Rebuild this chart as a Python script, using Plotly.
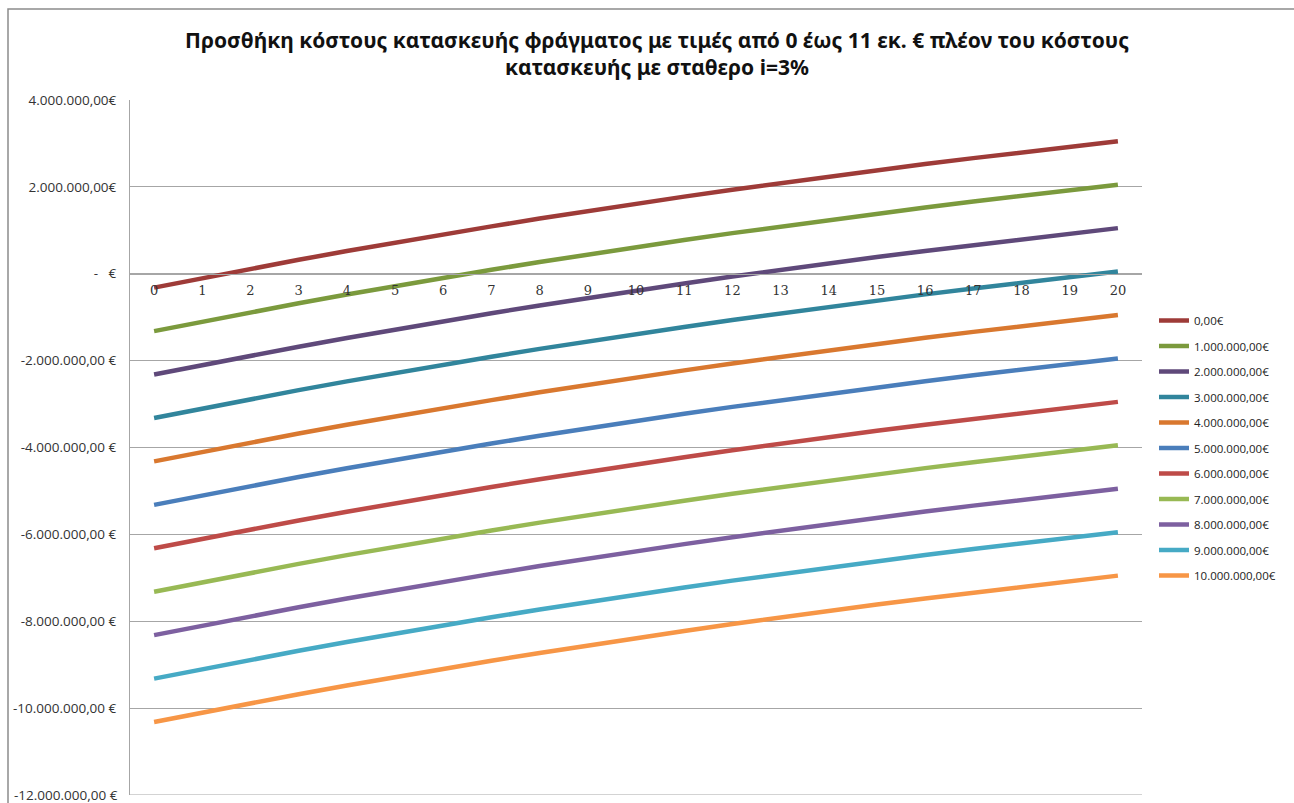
import plotly.graph_objects as go

# Years of operation (category axis)
years = list(range(21))

# Cumulative present value (€) of the project with no extra construction cost, i = 3%
base_npv = [-320000, -100000, 113000, 321000, 522000, 717000, 907000, 1091000,
            1270000, 1444000, 1612000, 1776000, 1935000, 2089000, 2239000,
            2384000, 2525000, 2662000, 2795000, 2924000, 3050000]

# Extra dam construction cost of each scenario (€)
added_cost = [0, 1000000, 2000000, 3000000, 4000000, 5000000,
              6000000, 7000000, 8000000, 9000000, 10000000]

series_names = ["0,00€", "1.000.000,00€", "2.000.000,00€", "3.000.000,00€",
                "4.000.000,00€", "5.000.000,00€", "6.000.000,00€", "7.000.000,00€",
                "8.000.000,00€", "9.000.000,00€", "10.000.000,00€"]

series_colors = ["#9E3B38", "#7B9A3D", "#5F497A", "#31859C", "#D9782F", "#4A7EBB",
                 "#BE4B48", "#98B954", "#7D60A0", "#46AAC5", "#F79646"]

# Value axis ticks
y_tickvals = [4000000, 2000000, 0, -2000000, -4000000, -6000000,
              -8000000, -10000000, -12000000]
y_ticktext = ["4.000.000,00€", "2.000.000,00€", " -   €", "-2.000.000,00 €",
              "-4.000.000,00 €", "-6.000.000,00 €", "-8.000.000,00 €",
              "-10.000.000,00 €", "-12.000.000,00 €"]

title_text = ("Προσθήκη κόστους κατασκευής φράγματος με τιμές από 0 έως 11 εκ. € πλέον του κόστους"
              "<br>κατασκευής με σταθερο i=3%")

fig = go.Figure()
for name, cost, color in zip(series_names, added_cost, series_colors):
    fig.add_trace(go.Scatter(
        x=years,
        y=[v - cost for v in base_npv],
        mode="lines",
        name=name,
        legendgroup=name,
        line=dict(color=color, width=4.5),
    ))

W, H = 1294, 803
ml, mr, mt, mb = 130, 152, 100, 8
pw, ph = W - ml - mr, H - mt - mb


def px_x(p):
    return (p - ml) / pw


def px_y(p):
    return (H - mb - p) / ph


y_min, y_max = min(y_tickvals), max(y_tickvals)
zero_pos = (0 - y_min) / (y_max - y_min)

ytick_font = dict(family="Open Sans, sans-serif", size=13.5, color="#333333")

fig.update_layout(
    width=W, height=H,
    margin=dict(l=ml, r=mr, t=mt, b=mb),
    paper_bgcolor="white",
    plot_bgcolor="white",
    font=dict(family="Open Sans, sans-serif", color="#333333"),
    title=dict(
        text=title_text,
        x=657 / W, xref="container", xanchor="center",
        y=1 - 48 / H, yref="container", yanchor="middle",
        font=dict(family="Noto Sans, sans-serif", size=21, color="#111111", weight="bold"),
    ),
    xaxis=dict(
        range=[-0.5, 20.5],
        tickvals=years,
        ticktext=[str(y) for y in years],
        anchor="free",
        position=zero_pos,
        showline=True, linecolor="#a6a6a6", linewidth=1,
        showgrid=False, zeroline=False,
        ticks="",
        ticklabelstandoff=5,
        tickfont=dict(family="DejaVu Serif, serif", size=13, color="#333333"),
    ),
    yaxis=dict(
        range=[y_min, y_max],
        # the lowest label sits on the figure's bottom edge; it is placed as an annotation below
        tickvals=y_tickvals[:-1],
        ticktext=y_ticktext[:-1],
        showgrid=True, gridcolor="#a6a6a6", gridwidth=1,
        zeroline=True, zerolinecolor="#a6a6a6", zerolinewidth=1,
        showline=True, linecolor="#a6a6a6", linewidth=1,
        ticks="",
        ticklabelstandoff=10,
        tickfont=ytick_font,
    ),
    legend=dict(
        x=px_x(1154), xanchor="left",
        y=px_y(306), yanchor="top",
        font=dict(family="Open Sans, sans-serif", size=11.5, color="#222222"),
        tracegroupgap=6.5,
        itemwidth=30,
        bgcolor="rgba(0,0,0,0)",
    ),
    showlegend=True,
    annotations=[
        dict(xref="paper", yref="y", x=0, y=y_tickvals[-1],
             text=y_ticktext[-1], showarrow=False,
             xanchor="right", yanchor="middle", xshift=-10,
             font=ytick_font),
    ],
    shapes=[
        # chart frame
        dict(type="rect", xref="paper", yref="paper",
             x0=px_x(8), x1=px_x(1310), y0=px_y(820), y1=px_y(9),
             line=dict(color="#8c8c8c", width=1.5), fillcolor="rgba(0,0,0,0)",
             layer="below"),
        # bottom edge of the plot area, on the lowest gridline
        dict(type="line", xref="paper", yref="y",
             x0=0, x1=1, y0=y_min, y1=y_min,
             line=dict(color="#a6a6a6", width=1), layer="below"),
    ],
)

fig.write_html("out.html")
